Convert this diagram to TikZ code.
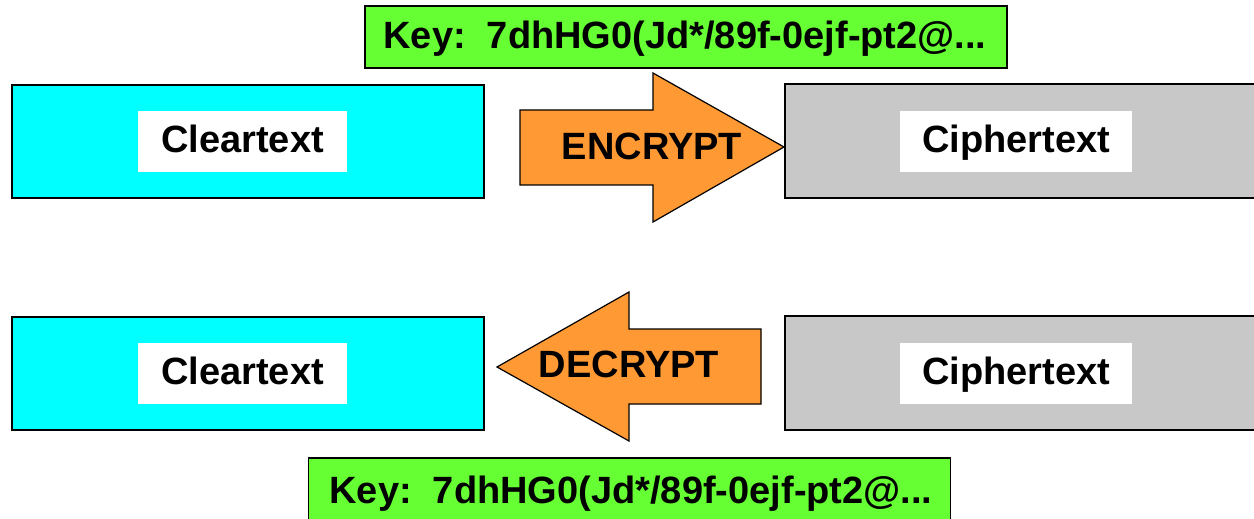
\documentclass[tikz,border=0pt]{standalone}
\usepackage{fontspec}
\setmainfont{Liberation Sans}
\definecolor{cleartextcyan}{RGB}{0,255,255}
\definecolor{ciphergray}{RGB}{200,200,200}
\definecolor{arroworange}{RGB}{255,153,51}
\definecolor{keygreen}{RGB}{102,255,51}
\begin{document}
\begin{tikzpicture}[x=0.5pt,y=-0.5pt,
  every node/.style={inner sep=0pt, outer sep=0pt},
  plainbox/.style={draw=black, line width=1pt, minimum width=#1},
  clearbox/.style={plainbox=236pt, fill=cleartextcyan, minimum height=56.5pt},
  cipherbox/.style={plainbox=236pt, fill=ciphergray, minimum height=57pt},
  tag/.style={fill=white, minimum height=30.5pt},
  keybox/.style={draw=black, line width=0.75pt, fill=keygreen, minimum width=321pt},
  arrowshape/.style={draw=black, line width=0.6pt, fill=arroworange, line join=miter},
  label/.style={font=\fontsize{19}{23}\selectfont\bfseries, anchor=base}
]
\useasboundingbox (0,0) rectangle (1254,519);

% top row: encryption
\node[clearbox] (clear1) at (248,141.5) {};
\node[cipherbox] (cipher1) at (1021,141) {};
\node[tag, minimum width=104.5pt] (cleartag1) at (242.5,141.5) {};
\node[tag, minimum width=116pt] (ciphertag1) at (1016,141.5) {};
\node[label] (cleartext1) at (242.5,152.7) {Cleartext};
\node[label] (ciphertext1) at (1016,152.7) {Ciphertext};

\draw[arrowshape] (520,110) -- (653,110) -- (653,73) -- (784,147)
  -- (653,222) -- (653,185) -- (520,185) -- cycle;
\node[label] (encrypt) at (652,159.3) {ENCRYPT};

\node[keybox, minimum height=31pt] (key1) at (686,37) {};
\node[label] (keytext1) at (685,49) {Key:\ \ 7dhHG0(Jd*/89f-0ejf-pt2@...};

% bottom row: decryption
\node[clearbox] (clear2) at (248,373) {};
\node[cipherbox] (cipher2) at (1021,373) {};
\node[tag, minimum width=104.5pt] (cleartag2) at (242.5,373) {};
\node[tag, minimum width=116pt] (ciphertag2) at (1016,373) {};
\node[label] (cleartext2) at (242.5,384.2) {Cleartext};
\node[label] (ciphertext2) at (1016,384.2) {Ciphertext};

\draw[arrowshape] (761,329) -- (629,329) -- (629,292) -- (497,367)
  -- (629,441) -- (629,404) -- (761,404) -- cycle;
\node[label] (decrypt) at (629,377.7) {DECRYPT};

\node[keybox, minimum height=32pt] (key2) at (629.5,490) {};
\node[label] (keytext2) at (631,503) {Key:\ \ 7dhHG0(Jd*/89f-0ejf-pt2@...};
\end{tikzpicture}
\end{document}
